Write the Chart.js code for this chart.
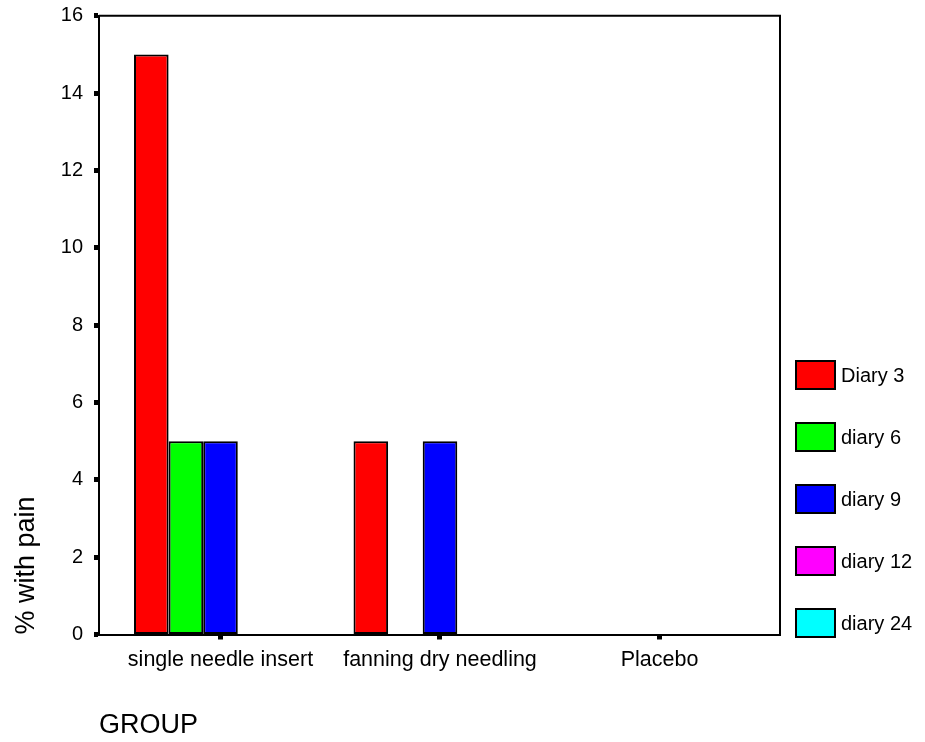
<!DOCTYPE html>
<html>
<head>
<meta charset="utf-8">
<script src="https://cdn.jsdelivr.net/npm/chart.js@4/dist/chart.umd.min.js"></script>
<style>
  html, body { margin: 0; padding: 0; background: #fff; }
  #wrap { width: 925px; height: 742px; }
</style>
</head>
<body>
<div id="wrap"><canvas id="c" width="925" height="742"></canvas></div>
<script>
// ---- data ----
const categories = ['single needle insert', 'fanning dry needling', 'Placebo'];
const seriesNames = ['Diary 3', 'diary 6', 'diary 9', 'diary 12', 'diary 24'];
const diary3  = [15, 5, 0];
const diary6  = [5, 0, 0];
const diary9  = [5, 5, 0];
const diary12 = [0, 0, 0];
const diary24 = [0, 0, 0];
const seriesColors = ['#ff0000', '#00ff00', '#0000ff', '#ff00ff', '#00ffff'];
const yTicks = [0, 2, 4, 6, 8, 10, 12, 14, 16];

const seriesValues = [diary3, diary6, diary9, diary12, diary24];

const FONT = '"Liberation Sans", Arial, sans-serif';

const datasets = seriesValues.map((vals, s) => ({
  label: seriesNames[s],
  data: vals.map((v, i) => ({ x: i, y: v })),
  backgroundColor: seriesColors[s],
  borderColor: '#000',
  borderWidth: 2,
  borderSkipped: false,
  categoryPercentage: 0.788,
  barPercentage: 1.0
}));

// frame + legend plugin
const framePlugin = {
  id: 'frame',
  afterDraw(chart) {
    const { ctx, chartArea: a } = chart;
    ctx.save();
    ctx.strokeStyle = '#000';
    ctx.lineWidth = 2;
    ctx.beginPath();
    ctx.moveTo(a.left, a.top);
    ctx.lineTo(a.right, a.top);
    ctx.lineTo(a.right, a.bottom);
    ctx.stroke();

    // legend
    const boxX = 796, boxW = 39, boxH = 28, firstY = 375, step = 62;
    ctx.font = '20px ' + FONT;
    ctx.textBaseline = 'middle';
    ctx.textAlign = 'left';
    chart.data.datasets.forEach((ds, i) => {
      const cy = firstY + step * i;
      ctx.fillStyle = ds.backgroundColor;
      ctx.fillRect(boxX, cy - boxH / 2, boxW, boxH);
      ctx.lineWidth = 2;
      ctx.strokeStyle = '#000';
      ctx.strokeRect(boxX, cy - boxH / 2, boxW, boxH);
      ctx.fillStyle = '#000';
      ctx.fillText(ds.label, boxX + boxW + 6, cy + 1);
    });
    ctx.restore();
  }
};

new Chart(document.getElementById('c'), {
  type: 'bar',
  data: { datasets },
  options: {
    responsive: false,
    animation: false,
    devicePixelRatio: 1,
    layout: { padding: { left: 0, top: 15.7, right: 145, bottom: 0 } },
    plugins: {
      legend: { display: false },
      tooltip: { enabled: false }
    },
    scales: {
      x: {
        type: 'linear',
        min: -0.5535,
        max: 2.549,
        offset: false,
        afterBuildTicks: (scale) => { scale.ticks = categories.map((c, i) => ({ value: i })); },
        afterFit: (scale) => { scale.height = 107.5; scale.paddingLeft = 0; scale.paddingRight = 0; },
        ticks: {
          autoSkip: false,
          maxRotation: 0,
          padding: 8,
          color: '#000',
          font: { family: FONT, size: 21.5 },
          callback: (v) => categories[v]
        },
        grid: {
          offset: false,
          drawOnChartArea: false,
          drawTicks: true,
          tickLength: 5,
          tickWidth: 5,
          tickColor: '#000'
        },
        border: { display: true, color: '#000', width: 2 },
        title: {
          display: true,
          text: 'GROUP',
          align: 'start',
          color: '#000',
          font: { family: FONT, size: 27 },
          padding: { top: 0, bottom: 0 }
        }
      },
      y: {
        min: 0,
        max: 16,
        afterBuildTicks: (scale) => { scale.ticks = yTicks.map(v => ({ value: v })); },
        afterFit: (scale) => { scale.width = 99; scale.paddingTop = 0; scale.paddingBottom = 0; },
        ticks: {
          padding: 11,
          color: '#000',
          font: { family: FONT, size: 20 }
        },
        grid: {
          drawOnChartArea: false,
          drawTicks: true,
          tickLength: 5,
          tickWidth: 5,
          tickColor: '#000'
        },
        border: { display: true, color: '#000', width: 2 },
        title: {
          display: true,
          text: '% with pain',
          align: 'start',
          color: '#000',
          font: { family: FONT, size: 27 },
          padding: { top: 10, bottom: 0 }
        }
      }
    }
  },
  plugins: [framePlugin]
});
</script>
</body>
</html>
